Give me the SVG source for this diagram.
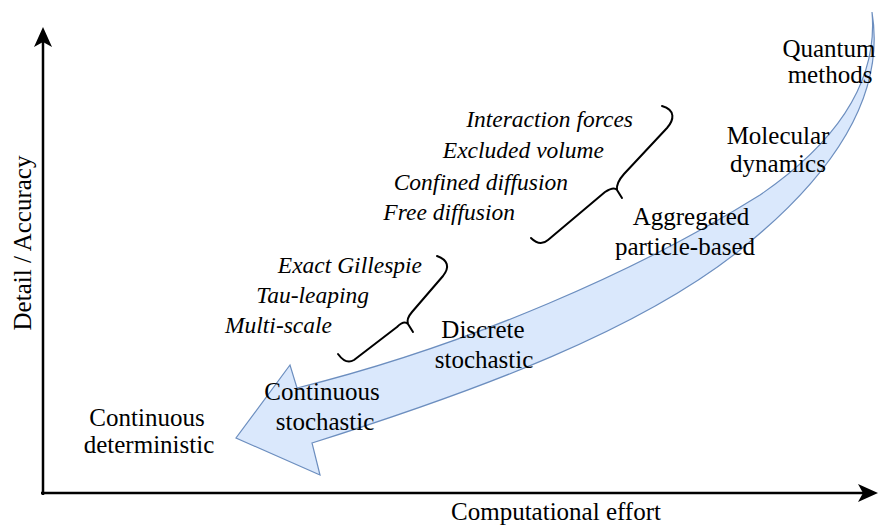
<svg xmlns="http://www.w3.org/2000/svg" width="878" height="526" viewBox="0 0 878 526">
<style>
.t{font-family:"Liberation Serif","Times New Roman",serif;font-size:25px;fill:#000;text-anchor:middle}
.i{font-family:"Liberation Serif","Times New Roman",serif;font-size:23.5px;font-style:italic;fill:#000;text-anchor:end}
.ax{stroke:#000;stroke-width:2.5;fill:none}
.br{stroke:#000;stroke-width:2;fill:none;stroke-linecap:round;stroke-linejoin:round}
</style>
<g id="axes">
<path class="ax" d="M43,495 V40"/>
<path d="M43,27 L52,47 L43,42 L34,47 Z" fill="#000"/>
<path class="ax" d="M41,493 H866"/>
<path d="M878,493 L858,502 L863,493 L858,484 Z" fill="#000"/>
<text class="t" x="556" y="520">Computational effort</text>
<text class="t" transform="translate(31,243) rotate(-90)">Detail / Accuracy</text>
</g>
<g id="bigarrow">
<path d="M872,12 C885,90 840,170 740,250 C640,330 480,390 312,443 L320,475 L236,438 L290,365 L297,388 C470,345 640,270 760,195 C840,140 878,80 872,12 Z" fill="#dae8fc" stroke="#6c8ebf" stroke-width="1.2" stroke-linejoin="miter"/>
</g>
<g id="braces">
<path class="br" d="M662,106 C676,110 674,120 667,128 L624,174 Q616,183 617,190 L622,198 M617,190 Q614,186 605,192 L548,240 Q540,247 531,238"/>
<path class="br" d="M437,256 C448,260 450,267 443,276 L412,312 Q406,319 408,324 L413,332 M408,324 Q404,320 397,327 L354,360 Q346,365 338,354"/>
</g>
<g id="quantum"><text class="t" x="829" y="57">Quantum</text><text class="t" x="830" y="83">methods</text></g>
<g id="molecular"><text class="t" x="778" y="144">Molecular</text><text class="t" x="778" y="172">dynamics</text></g>
<g id="aggregated"><text class="t" x="691" y="225">Aggregated</text><text class="t" x="685" y="255">particle-based</text></g>
<g id="discrete"><text class="t" x="483" y="338">Discrete</text><text class="t" x="484" y="368">stochastic</text></g>
<g id="contstoch"><text class="t" x="322" y="400">Continuous</text><text class="t" x="325" y="430">stochastic</text></g>
<g id="contdet"><text class="t" x="147" y="426">Continuous</text><text class="t" x="149" y="453">deterministic</text></g>
<g id="particle-details">
<text class="i" x="633" y="127">Interaction forces</text>
<text class="i" x="604" y="158">Excluded volume</text>
<text class="i" x="568" y="190">Confined diffusion</text>
<text class="i" x="515" y="220">Free diffusion</text>
</g>
<g id="stoch-details">
<text class="i" x="422" y="273">Exact Gillespie</text>
<text class="i" x="369" y="303">Tau-leaping</text>
<text class="i" x="332" y="333">Multi-scale</text>
</g>
</svg>
